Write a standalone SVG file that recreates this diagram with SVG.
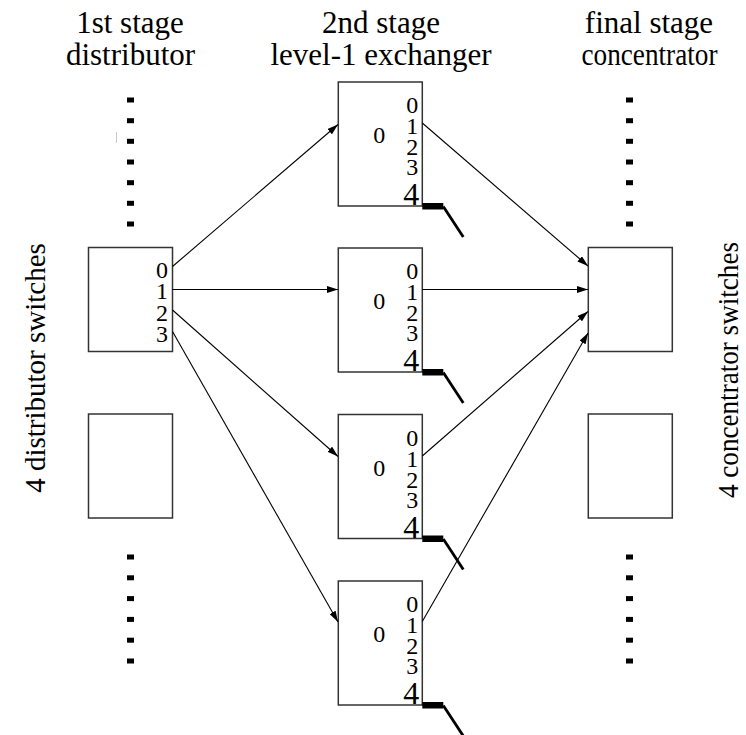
<svg xmlns="http://www.w3.org/2000/svg" width="746" height="735" viewBox="0 0 746 735">
  <style>
    text { font-family: 'Liberation Serif', 'Times New Roman', serif; fill: #000; }
    .box { fill: #ffffff; stroke: #333333; stroke-width: 1.5; }
    .title { font-size: 31px; text-anchor: middle; }
    .side { font-size: 29px; text-anchor: middle; }
    .port { font-size: 24px; text-anchor: end; }
    .port4 { font-size: 32px; text-anchor: end; }
    .mid0 { font-size: 24px; text-anchor: middle; }
    .link { stroke: #000; stroke-width: 1.1; fill: none; marker-end: url(#arrow); }
    .dot { fill: #000; }
    .stub { fill: #000; }
    .tail { stroke: #000; stroke-width: 2.8; }
  </style>
  <defs>
    <marker id="arrow" viewBox="0 0 11 7" refX="11" refY="3.5" markerWidth="11" markerHeight="7" markerUnits="userSpaceOnUse" orient="auto">
      <path d="M0,0 L11,3.5 L0,7 z" fill="#000"/>
    </marker>
    <g id="dots7">
      <rect class="dot" x="0" y="-2.5" width="7" height="5"/>
      <rect class="dot" x="0" y="18.2" width="7" height="5"/>
      <rect class="dot" x="0" y="38.8" width="7" height="5"/>
      <rect class="dot" x="0" y="59.5" width="7" height="5"/>
      <rect class="dot" x="0" y="80.2" width="7" height="5"/>
      <rect class="dot" x="0" y="100.8" width="7" height="5"/>
      <rect class="dot" x="0" y="121.5" width="7" height="5"/>
    </g>
    <g id="dots6">
      <rect class="dot" x="0" y="-2.5" width="7" height="5"/>
      <rect class="dot" x="0" y="18.3" width="7" height="5"/>
      <rect class="dot" x="0" y="39.1" width="7" height="5"/>
      <rect class="dot" x="0" y="59.9" width="7" height="5"/>
      <rect class="dot" x="0" y="80.7" width="7" height="5"/>
      <rect class="dot" x="0" y="101.5" width="7" height="5"/>
    </g>
    <!-- level-1 exchanger switch: 84 x 124, ports 0..4, fixed exit stub from port 4 -->
    <g id="exchanger">
      <rect class="box" x="0" y="0" width="84" height="124"/>
      <text class="mid0" x="41" y="61">0</text>
      <text class="port" x="80" y="31">0</text>
      <text class="port" x="80" y="52">1</text>
      <text class="port" x="80" y="73">2</text>
      <text class="port" x="80" y="93">3</text>
      <text class="port4" x="81" y="123">4</text>
      <rect class="stub" x="84" y="121" width="21" height="6.5"/>
      <line class="tail" x1="105" y1="124.5" x2="125" y2="155"/>
    </g>
  </defs>

  <!-- column headings -->
  <g id="headings">
    <text class="title" x="130" y="33">1st stage</text>
    <text class="title" x="130.5" y="65">distributor</text>
    <text class="title" x="381" y="33">2nd stage</text>
    <text class="title" x="381" y="65">level-1 exchanger</text>
    <text class="title" x="649" y="33">final stage</text>
    <text class="title" x="649.5" y="65" textLength="136" lengthAdjust="spacingAndGlyphs">concentrator</text>
  </g>

  <!-- side captions -->
  <g id="captions">
    <text class="side" transform="translate(45,368) rotate(-90)">4 distributor switches</text>
    <text class="side" transform="translate(738,370) rotate(-90)" textLength="256" lengthAdjust="spacingAndGlyphs">4 concentrator switches</text>
  </g>

  <!-- ellipsis columns -->
  <g id="ellipses">
    <use href="#dots7" x="127" y="100"/>
    <use href="#dots6" x="127" y="557"/>
    <use href="#dots7" x="626" y="100"/>
    <use href="#dots6" x="626" y="557"/>
    <line x1="116.5" y1="132" x2="116.5" y2="143" stroke="#c8c8c8" stroke-width="1"/>
  </g>

  <!-- distributor switches -->
  <g id="distributor-1">
    <rect class="box" x="88.5" y="247.5" width="84" height="104"/>
    <text class="port" x="168" y="277.5">0</text>
    <text class="port" x="168" y="299">1</text>
    <text class="port" x="168" y="320.5">2</text>
    <text class="port" x="168" y="341.5">3</text>
  </g>
  <g id="distributor-2">
    <rect class="box" x="88.5" y="414" width="84" height="104"/>
  </g>

  <!-- exchanger switches -->
  <g id="exchanger-1"><use href="#exchanger" x="338.3" y="82"/></g>
  <g id="exchanger-2"><use href="#exchanger" x="338.3" y="248"/></g>
  <g id="exchanger-3"><use href="#exchanger" x="338.3" y="414.5"/></g>
  <g id="exchanger-4"><use href="#exchanger" x="338.3" y="581"/></g>

  <!-- concentrator switches -->
  <g id="concentrator-1">
    <rect class="box" x="588.3" y="247.5" width="84" height="104"/>
  </g>
  <g id="concentrator-2">
    <rect class="box" x="588.3" y="414" width="84" height="104"/>
  </g>

  <!-- connections -->
  <g id="connectors">
    <line class="link" x1="172.5" y1="266.5" x2="338" y2="124.5"/>
    <line class="link" x1="172.5" y1="289.5" x2="338" y2="289.5"/>
    <line class="link" x1="172.5" y1="310" x2="338" y2="456.5"/>
    <line class="link" x1="172.5" y1="331.5" x2="338" y2="622"/>
    <line class="link" x1="422.3" y1="123" x2="588" y2="266"/>
    <line class="link" x1="422.3" y1="289.5" x2="588" y2="289.5"/>
    <line class="link" x1="422.3" y1="456" x2="588" y2="311.5"/>
    <line class="link" x1="422.3" y1="621.5" x2="588" y2="333"/>
  </g>
</svg>
